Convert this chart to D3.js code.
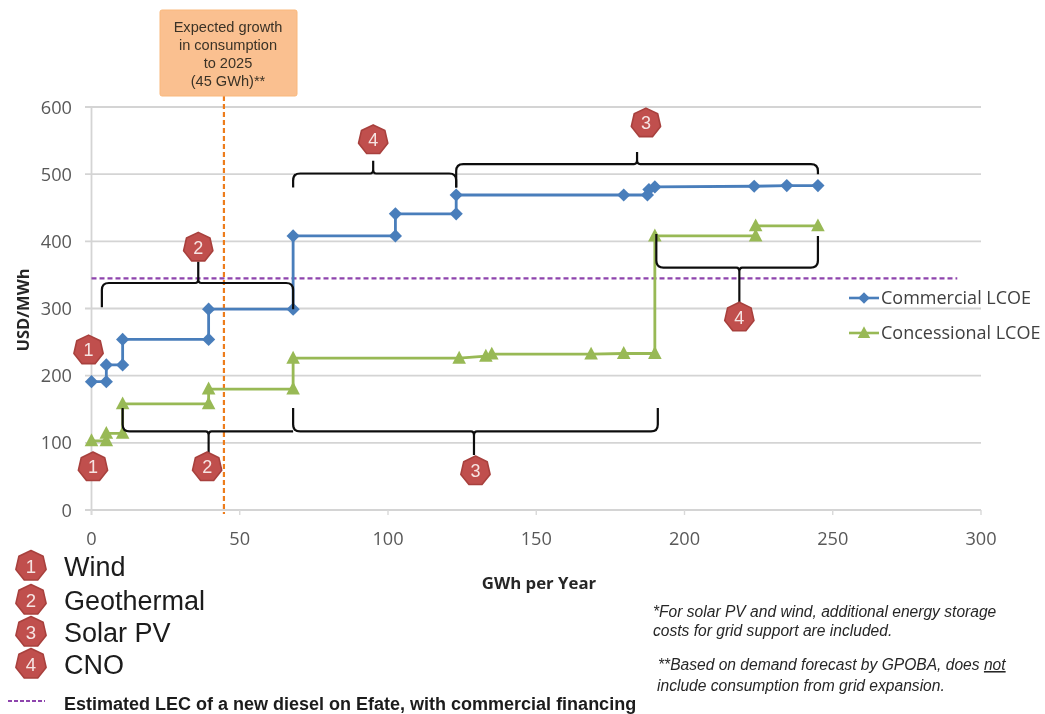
<!DOCTYPE html>
<html><head><meta charset="utf-8">
<script src="https://cdnjs.cloudflare.com/ajax/libs/d3/7.8.5/d3.min.js"></script>
<style>html,body{margin:0;padding:0;background:#fff;overflow:hidden}svg{display:block}</style>
</head><body><svg id="c" width="1045" height="714"></svg>
<script>
const commercialX=[0,5,5,10.5,10.5,39.5,39.5,68,68,102.5,102.5,123,123,179.5,187.5,188,190,223.5,234.5,245];
const commercialY=[191,191,216,216,254,254,299,299,408,408,441,441,469,469,469,477,481,482,483,483];
const concessionalX=[0,5,5,10.5,10.5,39.5,39.5,68,68,124,133,135,168.5,179.5,190,190,224,224,245];
const concessionalY=[103,103,114,114,158,158,180,180,226,226,229,232,232,233,233,408,408,423,423];
const seriesNames=["Commercial LCOE","Concessional LCOE"];
const xTicks=[0,50,100,150,200,250,300];
const yTicks=[0,100,200,300,400,500,600];
const dieselLevel=345, dieselEnd=292, growthX=45;
const calloutLines=["Expected growth","in consumption","to 2025","(45 GWh)**"];
const techNames=["Wind","Geothermal","Solar PV","CNO"];
const dieselLabel="Estimated LEC of a new diesel on Efate, with commercial financing";
// braces in data units: x0,x1,level,end0,end1,tipX,tipLevel
const braces=[
 [3.5,68,338,302,299,36,370],
 [68,123,501,480,480,95,520],
 [123,245,515,480,500,184,533],
 [190.5,245,361,411,408,218.5,309],
 [10.5,68,117,152,117,39.5,84],
 [68,191,117,152,152,129,82]
];
// badges: number, x, level
const badges=[[1,-1,238],[2,36,391],[4,95,551],[3,187,576],[4,218.5,287],[1,0.5,64],[2,39,64],[3,129.5,58]];

const svg=d3.select("#c");
const x=d3.scaleLinear().domain([0,300]).range([91.5,981]);
const y=d3.scaleLinear().domain([0,600]).range([510,107]);
const defs=svg.append("defs");
defs.append("filter").attr("id","soft").attr("x","-5%").attr("y","-5%").attr("width","110%").attr("height","110%")
  .append("feGaussianBlur").attr("stdDeviation",0.7);
const g=svg.append("g").attr("filter","url(#soft)");
const body="'Open Sans',sans-serif", arial="'Liberation Sans',Arial,sans-serif";

// grid
g.selectAll(".grid").data(yTicks).join("line").attr("x1",85).attr("x2",x(300))
 .attr("y1",d=>y(d)).attr("y2",d=>y(d)).attr("stroke","#d4d4d4").attr("stroke-width",1.8);
g.append("line").attr("x1",x(0)).attr("x2",x(0)).attr("y1",y(600)).attr("y2",y(0)+5).attr("stroke","#d4d4d4").attr("stroke-width",1.8);
g.selectAll(".xt").data(xTicks).join("line").attr("x1",d=>x(d)).attr("x2",d=>x(d)).attr("y1",y(0)).attr("y2",y(0)+5).attr("stroke","#d9d9d9").attr("stroke-width",1.4);

// tick labels
g.selectAll(".yl").data(yTicks).join("text").attr("x",72).attr("y",d=>y(d)+6.5).attr("text-anchor","end")
 .attr("font-family",body).attr("font-size",18.2).attr("fill","#595959").text(d=>d);
g.selectAll(".xl").data(xTicks).join("text").attr("x",d=>x(d)).attr("y",y(0)+34.5).attr("text-anchor","middle")
 .attr("font-family",body).attr("font-size",18.2).attr("fill","#595959").text(d=>d);

// axis titles
g.append("text").attr("transform","translate(29,310) rotate(-90)").attr("text-anchor","middle")
 .attr("font-family",body).attr("font-weight",700).attr("font-size",16.5).attr("fill","#262626").text("USD/MWh");
g.append("text").attr("x",539).attr("y",589).attr("text-anchor","middle")
 .attr("font-family",body).attr("font-weight",700).attr("font-size",16.8).attr("fill","#262626").text("GWh per Year");

// reference lines
g.append("line").attr("x1",x(0)).attr("x2",x(dieselEnd)).attr("y1",y(dieselLevel)).attr("y2",y(dieselLevel))
 .attr("stroke","#8e44ad").attr("stroke-width",2.2).attr("stroke-dasharray","5 3");
g.append("line").attr("x1",x(growthX)-1).attr("x2",x(growthX)-1).attr("y1",96).attr("y2",y(0)+4)
 .attr("stroke","#ed7d1f").attr("stroke-width",2.2).attr("stroke-dasharray","5 3");

// series
const line=d3.line().x(d=>x(d[0])).y(d=>y(d[1]));
const diamondPath=(cx,cy,r)=>`M${cx},${cy-r}L${cx+r},${cy}L${cx},${cy+r}L${cx-r},${cy}Z`;
const triPath=(cx,cy,r)=>`M${cx},${cy-r*1.1}L${cx+r},${cy+r*0.8}L${cx-r},${cy+r*0.8}Z`;
const comm=d3.zip(commercialX,commercialY), conc=d3.zip(concessionalX,concessionalY);
const blue="#4a7ebb", green="#98b954";
g.append("path").attr("d",line(comm)).attr("fill","none").attr("stroke",blue).attr("stroke-width",2.8);
g.append("path").attr("d",line(conc)).attr("fill","none").attr("stroke",green).attr("stroke-width",2.8);
g.selectAll(".m1").data(comm).join("path").attr("d",d=>diamondPath(x(d[0]),y(d[1]),6.6)).attr("fill",blue);
g.selectAll(".m2").data(conc).join("path").attr("d",d=>triPath(x(d[0]),y(d[1]),6.8)).attr("fill",green);

// braces
function bracePath(b){
  const [a0,a1,l,e0,e1,tx,tl]=b;
  const X0=x(a0),X1=x(a1),L=y(l),E0=y(e0),E1=y(e1),T=x(tx),TL=y(tl);
  const r=7, c=(TL<L?-1:1)*4, s0=Math.sign(L-E0)*r, s1=Math.sign(L-E1)*r;
  return `M${X0},${E0}L${X0},${L-s0}Q${X0},${L} ${X0+r},${L}L${T-3},${L}Q${T},${L} ${T},${L+c}L${T},${TL}`+
         `M${T},${L+c}Q${T},${L} ${T+3},${L}L${X1-r},${L}Q${X1},${L} ${X1},${L-s1}L${X1},${E1}`;
}
g.selectAll(".brace").data(braces).join("path").attr("d",bracePath).attr("fill","none").attr("stroke","#111").attr("stroke-width",2.2);

// badges
const hept=d3.range(7).map(i=>{const a=-Math.PI/2+i*2*Math.PI/7;return [Math.cos(a),Math.sin(a)];});
function badge(sel,n,cx,cy,r){
  const h=sel.append("g").attr("transform",`translate(${cx},${cy})`);
  h.append("path").attr("d",d3.line().curve(d3.curveLinearClosed)(hept.map(p=>[p[0]*r,p[1]*r])))
   .attr("fill","#c0504d").attr("stroke","#a8403d").attr("stroke-width",1.6).attr("stroke-linejoin","round");
  h.append("text").attr("y",r*0.42).attr("text-anchor","middle").attr("font-family",arial)
   .attr("font-size",r*1.2).attr("fill","#f6e4e3").text(n);
}
badges.forEach(b=>badge(g,b[0],x(b[1]),y(b[2]),15));

// chart legend
const legY=[298,333];
seriesNames.forEach((s,i)=>{
  const c=i?green:blue;
  g.append("line").attr("x1",849).attr("x2",879).attr("y1",legY[i]).attr("y2",legY[i]).attr("stroke",c).attr("stroke-width",2.6);
  g.append("path").attr("d",i?triPath(864,legY[i],6.2):diamondPath(864,legY[i],5.8)).attr("fill",c);
  g.append("text").attr("x",881).attr("y",legY[i]+6).attr("font-family",body).attr("font-size",18).attr("fill","#404040").text(s);
});

// callout
g.append("rect").attr("x",160).attr("y",10).attr("width",137).attr("height",86).attr("rx",2)
 .attr("fill","#fac090").attr("stroke","#f9b87c").attr("stroke-width",1);
g.selectAll(".cl").data(calloutLines).join("text").attr("x",228).attr("y",(d,i)=>32+i*17.9).attr("text-anchor","middle")
 .attr("font-family",arial).attr("font-size",14.6).attr("fill","#3a3226").text(d=>d);

// technology key
const keyY=[566,600,632,664];
techNames.forEach((t,i)=>{
  badge(g,i+1,31,keyY[i],15.5);
  g.append("text").attr("x",64).attr("y",keyY[i]+10).attr("font-family",arial).attr("font-size",27).attr("fill","#1a1a1a").text(t);
});
g.append("line").attr("x1",8).attr("x2",45).attr("y1",701).attr("y2",701).attr("stroke","#8e44ad").attr("stroke-width",2).attr("stroke-dasharray","4 2");
g.append("text").attr("x",64).attr("y",710).attr("font-family",arial).attr("font-weight",700).attr("font-size",18).attr("fill","#1a1a1a").text(dieselLabel);

// footnotes
const note=(xp,yp)=>g.append("text").attr("x",xp).attr("y",yp).attr("font-family",arial).attr("font-style","italic").attr("font-size",15.6).attr("fill","#262626");
note(653,617).text("*For solar PV and wind, additional energy storage");
note(653,636).text("costs for grid support are included.");
const n3=note(658,670); n3.append("tspan").text("**Based on demand forecast by GPOBA, does ");
n3.append("tspan").attr("text-decoration","underline").text("not");
note(657,691).text("include consumption from grid expansion.");
</script></body></html>
